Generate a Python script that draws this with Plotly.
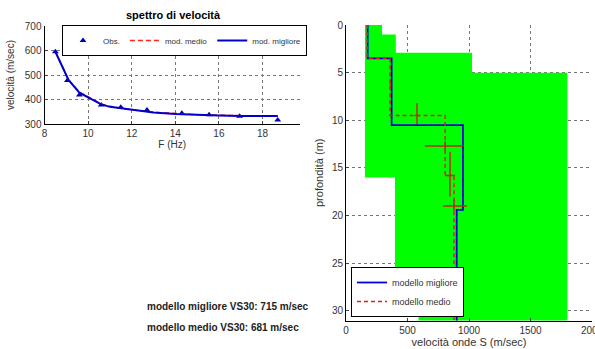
import plotly.graph_objects as go

W, H = 595, 349

# --- left panel: dispersion spectrum ---
obs_f = [8.5, 9.05, 9.6, 10.6, 11.5, 12.7, 14.3, 15.55, 16.95, 18.7]
obs_v = [595, 478, 418, 378, 368, 357, 344, 338, 332, 316]
mod_f = [8.5, 9.1, 9.6, 10.0, 10.6, 11.0, 12.0, 13.0, 14.0, 15.0, 16.0, 17.0, 18.7]
best_v = [595, 480, 428, 408, 380, 370, 357, 347, 341, 337, 335, 333, 333]
mean_v = [595, 481, 430, 410, 382, 372, 358, 348, 342, 338, 336, 334, 334]

# --- right panel: Vs profile ---
env_vel = [154, 154, 398, 398, 590, 590, 1800, 1800, 1025, 1025, 405, 405, 293, 293, 154]
env_dep = [0, 16, 16, 27, 27, 31.5, 31.5, 5, 5, 2.9, 2.9, 1, 1, 0, 0]
best_vel = [176, 176, 371, 371, 951, 951, 900, 900]
best_dep = [0, 3.5, 3.5, 10.5, 10.5, 19.4, 19.4, 31.5]
mean_vel = [172, 172, 358, 358, 806, 806, 878, 878]
mean_dep = [0, 3.5, 3.5, 9.5, 9.5, 15.8, 15.8, 31.5]
err_vel = [362, 577, 806, 846, 878]
err_dep = [6.3, 9.5, 12.7, 15.8, 19.0]
err_vel_minus = [5, 20, 165, 40, 90]
err_vel_plus = [5, 20, 150, 40, 105]
err_dep_minus = [0.4, 1.3, 0.5, 2.5, 0.7]
err_dep_plus = [0.4, 0.9, 0.5, 2.2, 0.5]

FONT = "Liberation Sans, Arial, sans-serif"

fig = go.Figure()

fig.add_trace(go.Scatter(x=obs_f, y=obs_v, mode="markers", name="Obs.",
                         marker=dict(symbol="triangle-up", size=6, color="#0000b0"),
                         xaxis="x", yaxis="y", legend="legend"))
fig.add_trace(go.Scatter(x=mod_f, y=mean_v, mode="lines", name="mod. medio",
                         line=dict(color="#ff2020", width=1.5, dash="5px,3px"),
                         xaxis="x", yaxis="y", legend="legend"))
fig.add_trace(go.Scatter(x=mod_f, y=best_v, mode="lines", name="mod. migliore",
                         line=dict(color="#0000cc", width=2),
                         xaxis="x", yaxis="y", legend="legend"))

fig.add_trace(go.Scatter(x=env_vel, y=env_dep, mode="lines", fill="toself",
                         fillcolor="#00ff00", line=dict(width=0, color="#00ff00"),
                         showlegend=False, xaxis="x2", yaxis="y2", hoverinfo="skip"))
fig.add_trace(go.Scatter(x=best_vel, y=best_dep, mode="lines", name="modello migliore",
                         line=dict(color="#0000dd", width=1.8),
                         xaxis="x2", yaxis="y2", legend="legend2"))
fig.add_trace(go.Scatter(x=mean_vel, y=mean_dep, mode="lines", name="modello medio",
                         line=dict(color="#e02020", width=1.5, dash="4px,3px"),
                         xaxis="x2", yaxis="y2", legend="legend2"))
fig.add_trace(go.Scatter(x=err_vel, y=err_dep, mode="markers",
                         marker=dict(size=1, color="rgba(0,0,0,0)"),
                         error_x=dict(type="data", array=err_vel_plus, arrayminus=err_vel_minus,
                                      color="#b83010", thickness=1.5, width=0),
                         error_y=dict(type="data", array=err_dep_plus, arrayminus=err_dep_minus,
                                      color="#b83010", thickness=1.5, width=0),
                         showlegend=False, xaxis="x2", yaxis="y2", hoverinfo="skip"))

grid = dict(showgrid=True, gridcolor="#777", griddash="dot", gridwidth=1)
axfont = dict(family=FONT, size=10, color="#333")
common = dict(showline=True, linecolor="black", linewidth=1, ticks="inside", ticklen=3,
              tickfont=axfont, zeroline=False, automargin=False, ticklabeloverflow="allow")

fig.update_layout(
    template="none",
    width=W, height=H, margin=dict(l=0, r=0, t=0, b=0, autoexpand=False),
    paper_bgcolor="white", plot_bgcolor="white",
    font=dict(family=FONT, size=10, color="#333"),
    xaxis=dict(domain=[44.5/W, 300/W], range=[8, 19.72], tickvals=[8, 10, 12, 14, 16, 18],
               anchor="y",
               title=dict(text="F (Hz)", font=dict(family=FONT, size=10, color="#333"), standoff=2),
               **common, **grid),
    yaxis=dict(domain=[1-124/H, 1-26/H], range=[300, 700], tickvals=[300, 400, 500, 600, 700],
               anchor="x",
               title=dict(text="velocità (m/sec)", font=dict(family=FONT, size=10, color="#333"), standoff=8),
               **common, **grid),
    xaxis2=dict(domain=[346/W, 592/W], range=[0, 2000], tickvals=[0, 500, 1000, 1500, 2000],
                anchor="y2",
                title=dict(text="velocità onde S (m/sec)", font=dict(family=FONT, size=11, color="#333"), standoff=3),
                **common, **grid),
    yaxis2=dict(domain=[1-320.5/H, 1-25/H], range=[31, 0], tickvals=[0, 5, 10, 15, 20, 25, 30],
                anchor="x2",
                title=dict(text="profondità (m)", font=dict(family=FONT, size=11, color="#333"), standoff=6),
                **common, **grid),
    legend=dict(orientation="h", x=62/W, y=1-25/H, xanchor="left", yanchor="top",
                bgcolor="white", bordercolor="black", borderwidth=1,
                font=dict(family=FONT, size=8, color="#333"), itemwidth=30,
                tracegroupgap=0),
    legend2=dict(orientation="v", x=351/W, y=1-317/H, xanchor="left", yanchor="bottom",
                 bgcolor="white", bordercolor="black", borderwidth=1,
                 font=dict(family=FONT, size=9, color="#333"), itemwidth=30,
                 tracegroupgap=0),
    annotations=[
        dict(text="<b>spettro di velocità</b>", x=173/W, y=1-15/H, xref="paper", yref="paper",
             xanchor="center", yanchor="middle",
             showarrow=False, font=dict(family=FONT, size=11, color="black")),
        dict(text="<b>modello migliore VS30: 715 m/sec</b>", x=145/W, y=1-306/H,
             xref="paper", yref="paper", xanchor="left", yanchor="middle", showarrow=False,
             font=dict(family=FONT, size=10, color="#222")),
        dict(text="<b>modello medio VS30: 681 m/sec</b>", x=145/W, y=1-327/H,
             xref="paper", yref="paper", xanchor="left", yanchor="middle", showarrow=False,
             font=dict(family=FONT, size=10, color="#222")),
    ],
)

fig.write_html("out.html")
